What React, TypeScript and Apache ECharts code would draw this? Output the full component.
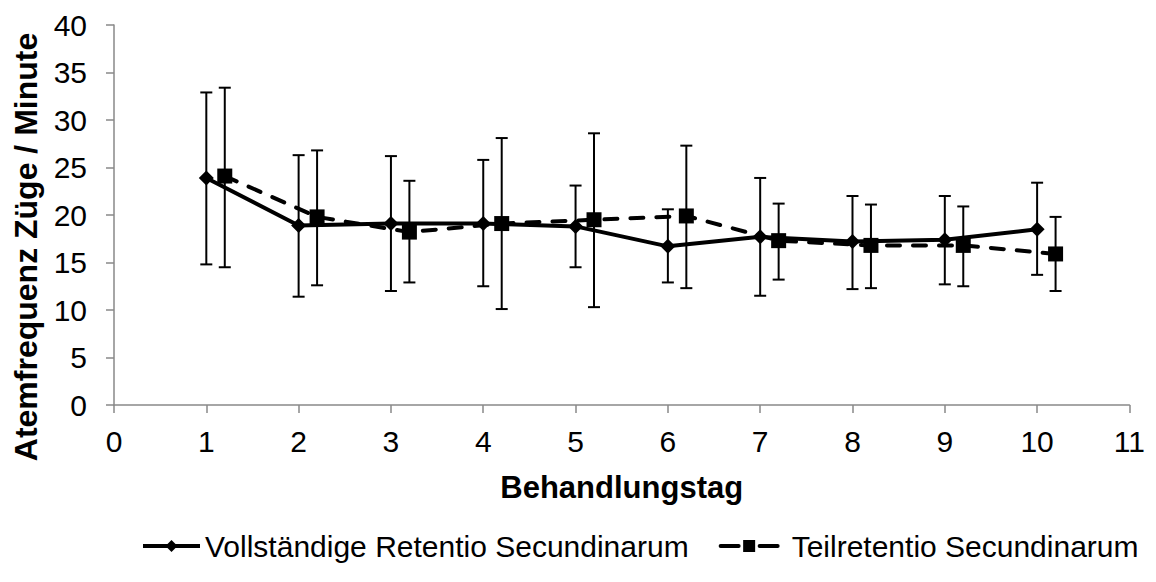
import React, { useEffect, useRef } from "react";
import * as echarts from "echarts";

const days = [1, 2, 3, 4, 5, 6, 7, 8, 9, 10];
const offsetTeil = 0.2;

const vollMean = [23.9, 18.9, 19.1, 19.1, 18.8, 16.7, 17.7, 17.2, 17.4, 18.5];
const vollHigh = [32.9, 26.3, 26.2, 25.8, 23.1, 20.6, 23.9, 22.0, 22.0, 23.4];
const vollLow = [14.8, 11.4, 12.0, 12.5, 14.5, 12.9, 11.5, 12.2, 12.7, 13.7];

const teilMean = [24.1, 19.8, 18.2, 19.1, 19.5, 19.9, 17.3, 16.8, 16.8, 15.9];
const teilHigh = [33.4, 26.8, 23.6, 28.1, 28.6, 27.3, 21.2, 21.1, 20.9, 19.8];
const teilLow = [14.5, 12.6, 12.9, 10.1, 10.3, 12.3, 13.2, 12.3, 12.5, 12.0];

const FONT = "Liberation Sans, Arial, sans-serif";
const AXIS_GRAY = "#898989";

function errorSeries(xs: number[], lows: number[], highs: number[]) {
  return {
    type: "custom",
    silent: true,
    z: 1,
    data: xs.map((x, i) => [x, lows[i], highs[i]]),
    renderItem: (_params: any, api: any) => {
      const x = api.value(0);
      const lo = api.coord([x, api.value(1)]);
      const hi = api.coord([x, api.value(2)]);
      const hw = 6;
      const style = { stroke: "#000", lineWidth: 2 };
      return {
        type: "group",
        children: [
          { type: "line", shape: { x1: lo[0], y1: lo[1], x2: hi[0], y2: hi[1] }, style },
          { type: "line", shape: { x1: hi[0] - hw, y1: hi[1], x2: hi[0] + hw, y2: hi[1] }, style },
          { type: "line", shape: { x1: lo[0] - hw, y1: lo[1], x2: lo[0] + hw, y2: lo[1] }, style },
        ],
      };
    },
  };
}

export default function App() {
  const ref = useRef<HTMLDivElement>(null);
  useEffect(() => {
    const chart = echarts.init(ref.current!, null, { renderer: "svg" });
    const teilX = days.map((d) => +(d + offsetTeil).toFixed(2));
    chart.setOption({
      animation: false,
      backgroundColor: "#fff",
      grid: { left: 106, right: 12, top: 17, bottom: 169, containLabel: false },
      legend: {
        top: 518,
        left: 128,
        itemWidth: 57,
        itemHeight: 15,
        itemGap: 30,
        textStyle: { fontFamily: FONT, fontSize: 30, color: "#000" },
        data: [
          {
            name: "Vollständige Retentio Secundinarum",
            lineStyle: { width: 4 },
          },
          {
            name: "Teilretentio Secundinarum",
            lineStyle: { type: [18, 21], cap: "round", width: 4 },
            textStyle: { padding: [0, 0, 0, 9] },
          },
        ],
      },
      graphic: [
        {
          type: "text",
          x: 18,
          y: 239,
          rotation: Math.PI / 2,
          style: {
            text: "Atemfrequenz Züge / Minute",
            font: "bold 32px Liberation Sans, Arial, sans-serif",
            fill: "#000",
            align: "center",
            verticalAlign: "middle",
          },
        },
      ],
      xAxis: {
        type: "value",
        min: 0,
        max: 11,
        interval: 1,
        name: "Behandlungstag",
        nameLocation: "middle",
        nameGap: 67,
        nameTextStyle: { fontFamily: FONT, fontSize: 31, fontWeight: "bold", color: "#000" },
        axisLine: { lineStyle: { color: AXIS_GRAY, width: 1.5 } },
        axisTick: { show: true, length: 8, lineStyle: { color: AXIS_GRAY, width: 1.5 } },
        axisLabel: { fontFamily: FONT, fontSize: 30, color: "#000", margin: 21 },
        splitLine: { show: false },
      },
      yAxis: {
        type: "value",
        min: 0,
        max: 40,
        interval: 5,
        axisLine: { show: true, lineStyle: { color: AXIS_GRAY, width: 1.5 } },
        axisTick: { show: true, length: 8, lineStyle: { color: AXIS_GRAY, width: 1.5 } },
        axisLabel: { fontFamily: FONT, fontSize: 30, color: "#000", margin: 27 },
        splitLine: { show: false },
      },
      series: [
        errorSeries(days, vollLow, vollHigh),
        errorSeries(teilX, teilLow, teilHigh),
        {
          name: "Vollständige Retentio Secundinarum",
          type: "line",
          z: 3,
          data: days.map((d, i) => [d, vollMean[i]]),
          symbol: "diamond",
          symbolSize: 15,
          itemStyle: { color: "#000" },
          lineStyle: { color: "#000", width: 4 },
        },
        {
          name: "Teilretentio Secundinarum",
          type: "line",
          z: 2,
          data: teilX.map((x, i) => [x, teilMean[i]]),
          symbol: "rect",
          symbolSize: 15,
          itemStyle: { color: "#000" },
          lineStyle: { color: "#000", width: 4, type: [13, 13], cap: "round" },
        },
      ],
    });
    return () => chart.dispose();
  }, []);
  return <div ref={ref} style={{ width: 1140, height: 566 }} />;
}
